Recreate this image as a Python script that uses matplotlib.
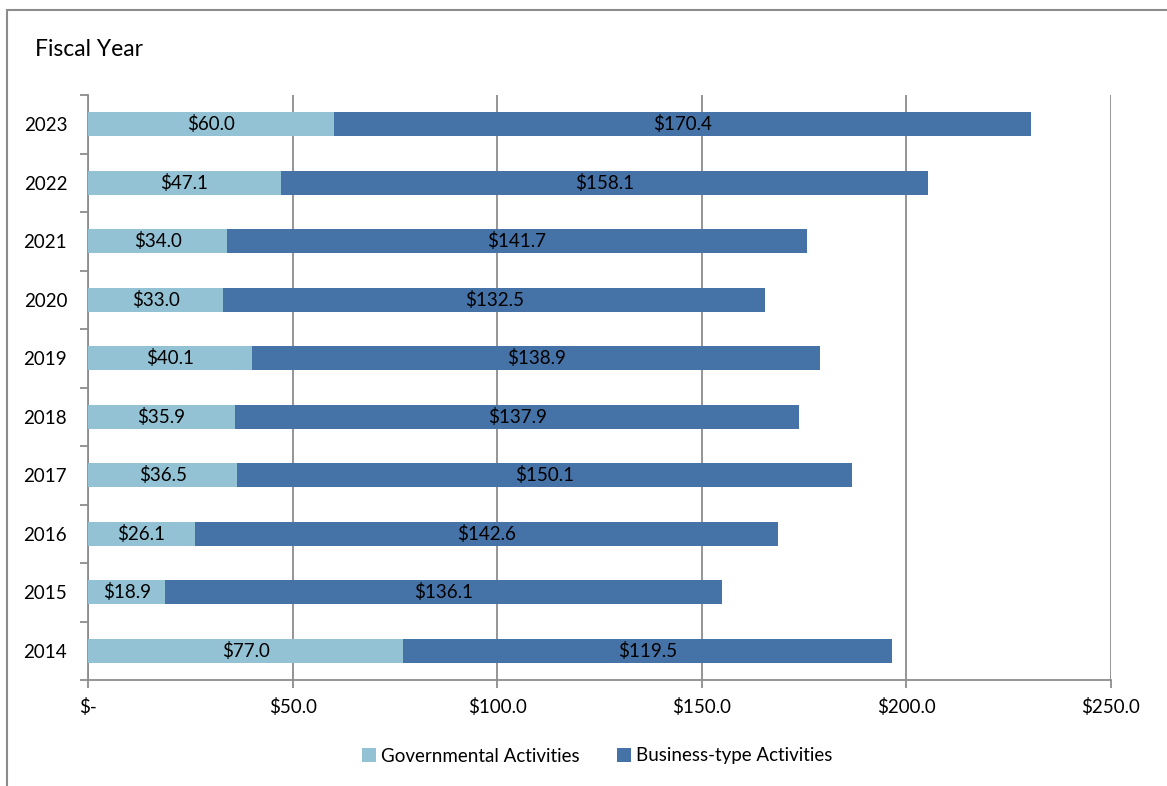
import matplotlib
matplotlib.use("Agg")
import matplotlib.pyplot as plt
from matplotlib.patches import Rectangle
from matplotlib.lines import Line2D
import numpy as np

years = ["2014", "2015", "2016", "2017", "2018", "2019", "2020", "2021", "2022", "2023"]
governmental = [77.0, 18.9, 26.1, 36.5, 35.9, 40.1, 33.0, 34.0, 47.1, 60.0]
business = [119.5, 136.1, 142.6, 150.1, 137.9, 138.9, 132.5, 141.7, 158.1, 170.4]
xticks = [0, 50, 100, 150, 200, 250]
series_names = ["Governmental Activities", "Business-type Activities"]

c_gov = "#92C2D4"
c_bus = "#4572A7"
gray = "#8C8C8C"

plt.rcParams['font.family'] = ['Lato', 'DejaVu Sans']

W, H = 1167, 786
fig = plt.figure(figsize=(W / 100, H / 100), dpi=100)

# outer border
fig.patches.append(Rectangle((7 / W, -0.1), 1.2, 1 - 10 / H + 0.1, transform=fig.transFigure,
                             fill=False, edgecolor=gray, linewidth=1.5))

ax = fig.add_axes([88 / W, 1 - 680 / H, (1111 - 88) / W, (680 - 95) / H])
y = np.arange(len(years))
bh = 0.41
ax.barh(y, governmental, height=bh, color=c_gov, zorder=3)
ax.barh(y, business, left=governmental, height=bh, color=c_bus, zorder=3)

fs = 13.5
for i in range(len(years)):
    g = governmental[i]
    b = business[i]
    ax.text(g / 2, y[i], f"${g:.1f}", ha='center', va='center', fontsize=fs, color='black', zorder=4)
    ax.text(g + b / 2, y[i], f"${b:.1f}", ha='center', va='center', fontsize=fs, color='black', zorder=4)

ax.set_xlim(0, 250)
ax.set_ylim(-0.5, len(years) - 0.5)
ax.set_xticks(xticks)
ax.set_xticklabels(["$-" if v == 0 else f"${v:.1f}" for v in xticks], fontsize=fs)
ax.set_yticks(y)
ax.set_yticklabels(years, fontsize=13.5)
ax.set_yticks(np.arange(-0.5, len(years)), minor=True)
ax.tick_params(axis='y', which='major', length=0, pad=15)
ax.tick_params(axis='y', which='minor', length=6, color=gray, width=1.3, direction='out')
ax.tick_params(axis='x', which='major', length=6, color=gray, width=1.3, direction='out', pad=7)

ax.grid(axis='x', color=gray, linewidth=1.3, zorder=0)
for s in ['top', 'right']:
    ax.spines[s].set_visible(False)
for s in ['left', 'bottom']:
    ax.spines[s].set_color(gray)
    ax.spines[s].set_linewidth(1.3)

fig.text(35 / W, 1 - 49 / H, "Fiscal Year", fontsize=16.5, ha='left', va='center')

handles = [Line2D([], [], marker='s', linestyle='none', markersize=9.5, color=c, markeredgewidth=0)
           for c in (c_gov, c_bus)]
fig.legend(handles, series_names, loc='center', bbox_to_anchor=(596 / W, 1 - 756 / H), ncol=2,
           frameon=False, fontsize=fs, handletextpad=0.1, columnspacing=1.9, handlelength=1.0)

fig.savefig("out.png", dpi=100)
